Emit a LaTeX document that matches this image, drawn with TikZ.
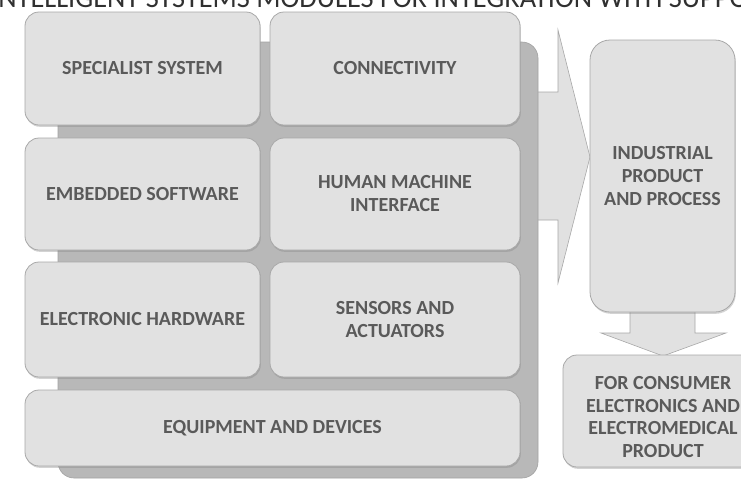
\documentclass[tikz,border=0pt]{standalone}
\usepackage{fontspec}
\setmainfont{Carlito}
\usetikzlibrary{shadows}
\definecolor{boxfill}{HTML}{E1E1E1}
\definecolor{boxline}{HTML}{A8A8A8}
\definecolor{panelfill}{HTML}{B8B8B8}
\definecolor{panelline}{HTML}{A2A2A2}
\definecolor{labeltext}{HTML}{5A5A5A}
\definecolor{titletext}{HTML}{303030}

\begin{document}
\begin{tikzpicture}[x=1pt,y=-1pt,
  module/.style={draw=boxline, line width=0.8pt, fill=boxfill,
    rounded corners=14pt,
    drop shadow={shadow xshift=0.8pt, shadow yshift=-1.8pt, opacity=0.35},
    font=\bfseries\fontsize{20}{23}\selectfont, text=labeltext,
    align=center, inner sep=0pt},
  blockarrow/.style={draw=boxline, line width=0.6pt, fill=boxfill, line join=miter},
  panel/.style={fill=panelfill, draw=panelline, line width=0.6pt, rounded corners=16pt}]

\useasboundingbox (0,0) rectangle (741,480);
\clip (0,0) rectangle (741,480);

% heading running across the top edge
\node[anchor=base west, inner sep=0pt, text=titletext,
      font=\fontsize{28.4}{31}\selectfont] (title) at (-9,7)
  {INTELLIGENT SYSTEMS MODULES FOR INTEGRATION WITH SUPPO};

% block arrow leaving the module stack
\draw[blockarrow] (530,92) -- (558,92) -- (558,30) -- (590,157)
  -- (558,283) -- (558,220) -- (530,220) -- cycle;

% backing panel of the module stack
\path[panel] (58,42) rectangle (538,478);

% modules
\node[module, minimum width=235pt, minimum height=113pt] (spec) at (142.5,68.5) {SPECIALIST SYSTEM};
\node[module, minimum width=250pt, minimum height=113pt] (conn) at (395,68.5) {CONNECTIVITY};
\node[module, minimum width=235pt, minimum height=112pt] (emb) at (142.5,194) {EMBEDDED SOFTWARE};
\node[module, minimum width=250pt, minimum height=112pt] (hmi) at (395,194) {HUMAN MACHINE\\INTERFACE};
\node[module, minimum width=235pt, minimum height=115pt] (hw) at (142.5,319.5) {ELECTRONIC HARDWARE};
\node[module, minimum width=250pt, minimum height=115pt] (sens) at (395,319.5) {SENSORS AND\\ACTUATORS};
\node[module, minimum width=495pt, minimum height=76pt] (equip) at (272.5,428) {EQUIPMENT AND DEVICES};

% downward block arrow between the two result boxes
\draw[blockarrow] (630,300) -- (630,333) -- (601,333) -- (663,356)
  -- (726,333) -- (695,333) -- (695,300) -- cycle;

% result boxes
\node[module, rounded corners=20pt, minimum width=145pt, minimum height=272pt] (ind) at (662.5,176)
  {INDUSTRIAL\\PRODUCT\\AND PROCESS};
\node[module, minimum width=202pt, minimum height=112pt] (cons) at (664,411) {};
\node[font=\bfseries\fontsize{20}{22.5}\selectfont, text=labeltext, align=center, inner sep=0pt]
  (conslabel) at (663,417) {FOR CONSUMER\\ELECTRONICS AND\\ELECTROMEDICAL\\PRODUCT};

\end{tikzpicture}
\end{document}
